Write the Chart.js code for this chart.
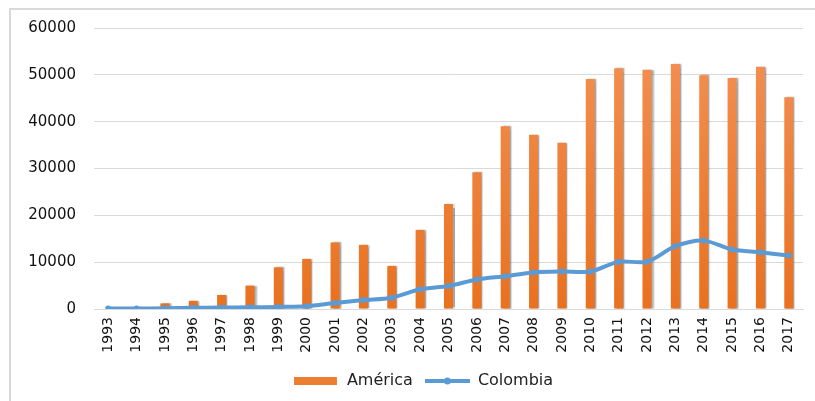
<!DOCTYPE html>
<html>
<head>
<meta charset="utf-8">
<script src="https://cdn.jsdelivr.net/npm/chart.js@4.4.1/dist/chart.umd.min.js"></script>
<style>
  html, body { margin: 0; padding: 0; background: #fff; overflow: hidden; }
  #wrap { position: relative; width: 815px; height: 401px; }
  #frame { position: absolute; left: 9px; top: 8px; width: 806px; height: 393px;
           border-left: 2px solid #d9d9d9; border-top: 2px solid #d9d9d9; box-sizing: border-box; }
  canvas { position: absolute; left: 0; top: 0; }
</style>
</head>
<body>
<div id="wrap">
  <div id="frame"></div>
  <canvas id="chart" width="815" height="401"></canvas>
</div>
<script>
const years = ["1993","1994","1995","1996","1997","1998","1999","2000","2001","2002","2003","2004","2005",
  "2006","2007","2008","2009","2010","2011","2012","2013","2014","2015","2016","2017"];
const america = [0, 0, 1200, 1750, 3000, 5000, 8900, 10700, 14200, 13700, 9200, 16900, 22400,
  29200, 39000, 37200, 35500, 49100, 51400, 51100, 52300, 49900, 49300, 51700, 45200];
const colombia = [100, 100, 150, 250, 300, 350, 450, 600, 1300, 1900, 2400, 4200, 4900,
  6300, 7000, 7800, 8000, 8000, 10100, 10100, 13400, 14600, 12700, 12100, 11400];
const yTicks = [0, 10000, 20000, 30000, 40000, 50000, 60000];

const orange = "#ED7D31";
const blue = "#5B9BD5";

function legendIcon(kind) {
  const c = document.createElement("canvas");
  c.width = 45; c.height = 10;
  const g = c.getContext("2d");
  if (kind === "bar") {
    g.fillStyle = orange;
    g.fillRect(0, 1, 43, 8);
  } else {
    g.strokeStyle = blue;
    g.lineWidth = 4;
    g.beginPath(); g.moveTo(0, 5); g.lineTo(45, 5); g.stroke();
    g.fillStyle = blue;
    g.beginPath(); g.arc(22.5, 5, 3.5, 0, Math.PI * 2); g.fill();
  }
  return c;
}
const icons = [legendIcon("bar"), legendIcon("line")];

// soft drop shadow behind the bars, like the office chart
const barShadow = {
  id: "barShadow",
  beforeDatasetDraw(chart, args) {
    if (args.index !== 0) return;
    const ctx = chart.ctx;
    ctx.save();
    ctx.shadowColor = "rgba(0,0,0,0.35)";
    ctx.shadowBlur = 1.5;
    ctx.shadowOffsetX = 2;
    ctx.shadowOffsetY = 0;
  },
  afterDatasetDraw(chart, args) {
    if (args.index !== 0) return;
    chart.ctx.restore();
  }
};

// nudge the legend a bit to the right
const legendShift = {
  id: "legendShift",
  afterLayout(chart) {
    if (!chart.legend) return;
    chart.legend.left += 22;
    chart.legend.right += 22;
  }
};

function barGradient(context) {
  const area = context.chart.chartArea;
  if (!area) return orange;
  const g = context.chart.ctx.createLinearGradient(0, area.top, 0, area.bottom);
  g.addColorStop(0, "#F39257");
  g.addColorStop(1, "#E9711F");
  return g;
}

new Chart(document.getElementById("chart"), {
  type: "bar",
  data: {
    labels: years,
    datasets: [
      {
        type: "bar",
        label: "América",
        data: america,
        backgroundColor: barGradient,
        barPercentage: 0.32,
        categoryPercentage: 1,
        order: 2
      },
      {
        type: "line",
        label: "Colombia",
        data: colombia,
        borderColor: blue,
        backgroundColor: blue,
        borderWidth: 4,
        tension: 0.3,
        pointRadius: 3,
        pointBorderWidth: 0,
        pointBackgroundColor: blue,
        order: 1
      }
    ]
  },
  options: {
    responsive: false,
    animation: false,
    devicePixelRatio: 1,
    layout: { padding: { left: 0, right: 12, top: 28, bottom: 2 } },
    plugins: {
      tooltip: { enabled: false },
      legend: {
        position: "bottom",
        labels: {
          usePointStyle: true,
          pointStyleWidth: 45,
          padding: 12,
          color: "#222",
          font: { family: "DejaVu Sans", size: 16 },
          generateLabels: (chart) => chart.data.datasets.map((ds, i) => ({
            text: ds.label,
            pointStyle: icons[i],
            fillStyle: "transparent",
            strokeStyle: "transparent",
            lineWidth: 0,
            fontColor: "#222",
            datasetIndex: i,
            hidden: false
          }))
        }
      }
    },
    scales: {
      x: {
        grid: { display: false, drawTicks: false },
        border: { display: true, color: "#d9d9d9", width: 1 },
        ticks: {
          minRotation: 90, maxRotation: 90, padding: 8,
          color: "#111",
          font: { family: "DejaVu Sans", size: 14 }
        },
        afterFit: (scale) => { scale.height = 52; }
      },
      y: {
        min: 0, max: 60000,
        afterBuildTicks: (scale) => { scale.ticks = yTicks.map(v => ({ value: v })); },
        grid: { color: "#d9d9d9", lineWidth: 1, drawTicks: false },
        border: { display: false },
        ticks: {
          padding: 18,
          color: "#111",
          font: { family: "DejaVu Sans", size: 15 },
          callback: (v) => String(v)
        },
        afterFit: (scale) => { scale.width = 94; }
      }
    }
  },
  plugins: [barShadow, legendShift]
});
</script>
</body>
</html>
